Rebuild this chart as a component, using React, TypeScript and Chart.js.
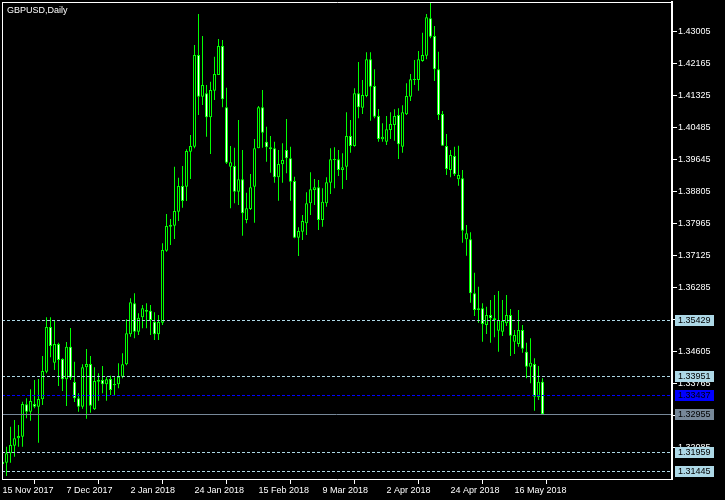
import React, { useEffect, useRef } from 'react';
import { Chart, registerables } from 'chart.js';

Chart.register(...registerables);

const chartTitle = 'GBPUSD,Daily';

// Daily OHLC values, oldest first
const open = [
  1.31652, 1.31687, 1.31932, 1.32133, 1.32326, 1.32369, 1.33218, 1.33026, 1.33227, 1.33157,
  1.33349, 1.34076, 1.35248, 1.34312, 1.34802, 1.34408, 1.33874, 1.34732, 1.33804, 1.33376,
  1.33157, 1.34189, 1.34277, 1.33087, 1.33813, 1.33857, 1.33743, 1.33883, 1.33717, 1.33743,
  1.33944, 1.34268, 1.35056, 1.35869, 1.35126, 1.35502, 1.35694, 1.35677, 1.35388, 1.35056,
  1.35362, 1.37252, 1.37882, 1.37908, 1.38276, 1.38949, 1.38932, 1.39851, 1.39982, 1.42388,
  1.41294, 1.41382, 1.40752, 1.41452, 1.41863, 1.42624, 1.41014, 1.39457, 1.39474, 1.38801,
  1.39124, 1.38057, 1.38346, 1.38932, 1.39938, 1.41014, 1.40113, 1.39921, 1.39938, 1.39177,
  1.39518, 1.39894, 1.39676, 1.39081, 1.37593, 1.37751, 1.37969, 1.38494, 1.38844, 1.38914,
  1.38057, 1.38494, 1.39037, 1.39658, 1.39649, 1.39369, 1.39457, 1.40262, 1.39999, 1.41382,
  1.41006, 1.41312, 1.42274, 1.41574, 1.40787, 1.40174, 1.40113, 1.40419, 1.40551, 1.40813,
  1.39982, 1.40831, 1.41294, 1.41732, 1.41732, 1.42231, 1.42371, 1.43351, 1.42887, 1.42012,
  1.40839, 1.39999, 1.39369, 1.39737, 1.39124, 1.39151, 1.37549, 1.37549, 1.36132, 1.35694,
  1.35738, 1.35301, 1.35563, 1.35476, 1.35152, 1.35126, 1.35344, 1.35563, 1.34863, 1.34802,
  1.35169, 1.34601, 1.34207, 1.34277, 1.33402, 1.33813,
];
const high = [
  1.31783, 1.32107, 1.32632, 1.32807, 1.32676, 1.33288, 1.33376, 1.33612, 1.33857, 1.33883,
  1.34487, 1.35502, 1.35502, 1.35406, 1.34837, 1.34426, 1.34854, 1.35222, 1.34338, 1.33507,
  1.34268, 1.34671, 1.34487, 1.34189, 1.34032, 1.34224, 1.33944, 1.33971, 1.33927, 1.34294,
  1.34557, 1.35449, 1.36001, 1.36132, 1.35607, 1.35826, 1.35869, 1.35826, 1.35633, 1.35563,
  1.37444, 1.38214, 1.38083, 1.39457, 1.39168, 1.39474, 1.39912, 1.40288, 1.42651, 1.43464,
  1.42887, 1.41601, 1.41688, 1.42344, 1.42808, 1.42782, 1.41531, 1.39999, 1.39956, 1.40682,
  1.39894, 1.38774, 1.39264, 1.40183, 1.41049, 1.41469, 1.40507, 1.40262, 1.40113, 1.39894,
  1.40069, 1.40708, 1.39982, 1.39194, 1.37864, 1.38188, 1.38783, 1.39308, 1.39133, 1.39107,
  1.38888, 1.39177, 1.39938, 1.39964, 1.39894, 1.39807, 1.40883, 1.40682, 1.41513, 1.42204,
  1.41732, 1.42458, 1.42458, 1.42012, 1.40971, 1.40594, 1.40787, 1.40883, 1.40962, 1.40988,
  1.41067, 1.41644, 1.41889, 1.42257, 1.42493, 1.42974, 1.43464, 1.43762, 1.43149, 1.42476,
  1.40918, 1.40314, 1.39894, 1.39982, 1.40008, 1.39369, 1.37926, 1.37733, 1.36674, 1.36307,
  1.35869, 1.35782, 1.35957, 1.36088, 1.36193, 1.35957, 1.36088, 1.35721, 1.35169, 1.35694,
  1.35301, 1.34837, 1.34951, 1.34426, 1.34224, 1.33901,
];
const low = [
  1.31599, 1.31337, 1.31687, 1.31844, 1.32107, 1.32107, 1.32851, 1.32789, 1.33113, 1.32212,
  1.33201, 1.34032, 1.34452, 1.34119, 1.33699, 1.33568, 1.33174, 1.33857, 1.33279, 1.33026,
  1.33104, 1.32842, 1.32999, 1.33069, 1.33314, 1.33507, 1.33314, 1.33463, 1.33463, 1.33638,
  1.33901, 1.34242, 1.34994, 1.34951, 1.35038, 1.35213, 1.35213, 1.35038, 1.34907, 1.34907,
  1.35301, 1.37226, 1.37401, 1.37558, 1.38031, 1.38381, 1.38556, 1.39133, 1.39938, 1.40813,
  1.41076, 1.40244, 1.39789, 1.41207, 1.41863, 1.41014, 1.39527, 1.38363, 1.38494, 1.38451,
  1.37646, 1.37969, 1.38319, 1.37987, 1.39938, 1.39956, 1.39588, 1.39299, 1.39037, 1.38564,
  1.39037, 1.39282, 1.38564, 1.37576, 1.37112, 1.37532, 1.37663, 1.38188, 1.38451, 1.37794,
  1.37882, 1.38407, 1.38739, 1.38888, 1.39212, 1.38871, 1.39107, 1.39824, 1.39982, 1.40726,
  1.40839, 1.41277, 1.40664, 1.40726, 1.40113, 1.40113, 1.40026, 1.40183, 1.40139, 1.39658,
  1.39824, 1.40813, 1.41181, 1.41601, 1.41452, 1.42213, 1.42274, 1.42826, 1.41706, 1.40682,
  1.40008, 1.39238, 1.39177, 1.39212, 1.38958, 1.37462, 1.37121, 1.35887, 1.35537, 1.35362,
  1.34863, 1.35064, 1.34837, 1.34977, 1.34601, 1.35012, 1.35274, 1.34487, 1.34539, 1.34732,
  1.34574, 1.33901, 1.33769, 1.33052, 1.33332, 1.32938,
];
const close = [
  1.31712, 1.31932, 1.32151, 1.32326, 1.32387, 1.33227, 1.33026, 1.33306, 1.33157, 1.33358,
  1.34093, 1.35248, 1.34749, 1.34802, 1.34382, 1.33874, 1.34732, 1.33918, 1.33376, 1.33157,
  1.34189, 1.34277, 1.33183, 1.33831, 1.33866, 1.33743, 1.33874, 1.33594, 1.33752, 1.33944,
  1.34268, 1.35082, 1.35896, 1.35126, 1.35493, 1.35738, 1.35651, 1.35432, 1.35056, 1.35388,
  1.37269, 1.37899, 1.37926, 1.38293, 1.38949, 1.38556, 1.39868, 1.39999, 1.42388, 1.41294,
  1.41601, 1.40752, 1.41469, 1.41889, 1.42624, 1.41224, 1.39562, 1.39571, 1.38801, 1.39124,
  1.38232, 1.38363, 1.38914, 1.39938, 1.41014, 1.40349, 1.39964, 1.39964, 1.39177, 1.39527,
  1.39632, 1.39676, 1.39063, 1.37593, 1.37768, 1.38031, 1.38494, 1.38862, 1.38914, 1.38057,
  1.38538, 1.39046, 1.39649, 1.39632, 1.39369, 1.39439, 1.40262, 1.39999, 1.41382, 1.41014,
  1.41338, 1.42274, 1.41557, 1.40769, 1.40183, 1.40244, 1.40437, 1.40577, 1.40787, 1.40043,
  1.40883, 1.41312, 1.41749, 1.41758, 1.42274, 1.42388, 1.43377, 1.42869, 1.42012, 1.40813,
  1.40008, 1.39396, 1.39763, 1.39256, 1.39238, 1.37777, 1.37707, 1.36132, 1.35694, 1.35738,
  1.35327, 1.35563, 1.35476, 1.35432, 1.35432, 1.35414, 1.35563, 1.35021, 1.35038, 1.35169,
  1.34679, 1.34207, 1.34312, 1.33419, 1.33813, 1.32955,
];

// Time axis labels (bar index where each label sits)
const xTickIndex = [0, 16, 32, 48, 64, 80, 96, 112, 128];
const xTickLabels = [
  '15 Nov 2017', '7 Dec 2017', '2 Jan 2018', '24 Jan 2018', '15 Feb 2018',
  '9 Mar 2018', '2 Apr 2018', '24 Apr 2018', '16 May 2018',
];

// Price axis labels
const yTickValues = [
  1.43005, 1.42165, 1.41325, 1.40485, 1.39645, 1.38805, 1.37965, 1.37125,
  1.36285, 1.35445, 1.34605, 1.33765, 1.32925, 1.32085,
];

// Horizontal levels
const dashedLevels = [1.35429, 1.33951, 1.31959, 1.31445];
const blueLevel = 1.33437;
const bidLevel = 1.32955;

const FONT_FAMILY = 'Liberation Sans';
const FONT = `9px "${FONT_FAMILY}"`;

const mtPlugin = {
  id: 'mtLook',
  beforeDraw(chart: any) {
    const ctx = chart.ctx;
    ctx.save();
    ctx.fillStyle = '#000000';
    ctx.fillRect(0, 0, chart.width, chart.height);
    ctx.restore();
  },
  afterDatasetsDraw(chart: any) {
    const { ctx, chartArea: a, scales } = chart;
    const y = scales.y;
    ctx.save();
    const hline = (v: number, color: string, dash: number[]) => {
      const py = Math.floor(y.getPixelForValue(v)) + 0.5;
      ctx.strokeStyle = color;
      ctx.lineWidth = 1;
      ctx.setLineDash(dash);
      ctx.beginPath();
      ctx.moveTo(a.left, py);
      ctx.lineTo(a.right - 1, py);
      ctx.stroke();
    };
    hline(bidLevel, '#778899', []);
    dashedLevels.forEach((v) => hline(v, '#add8e6', [3, 2]));
    hline(blueLevel, '#0000ff', [3, 2]);
    ctx.restore();
  },
  afterDraw(chart: any) {
    const { ctx, chartArea: a, scales } = chart;
    const y = scales.y;
    ctx.save();
    // frame (top & left)
    ctx.strokeStyle = '#ffffff';
    ctx.lineWidth = 1;
    ctx.setLineDash([]);
    ctx.beginPath();
    ctx.moveTo(a.left, a.top + 0.5);
    ctx.lineTo(a.right + 1, a.top + 0.5);
    ctx.moveTo(a.left + 0.5, a.top);
    ctx.lineTo(a.left + 0.5, a.bottom);
    ctx.stroke();
    // title
    ctx.font = FONT;
    ctx.fillStyle = '#ffffff';
    ctx.textBaseline = 'alphabetic';
    ctx.textAlign = 'left';
    ctx.fillText(chartTitle, 7, 13);
    // level labels
    const box = (v: number, bg: string) => {
      const row = Math.floor(y.getPixelForValue(v));
      ctx.fillStyle = bg;
      ctx.fillRect(a.right + 3, row - 5, 39, 11);
      ctx.fillStyle = '#000000';
      ctx.textBaseline = 'middle';
      ctx.fillText(v.toFixed(5), a.right + 6, row + 1);
    };
    dashedLevels.forEach((v) => box(v, '#add8e6'));
    box(blueLevel, '#0000ff');
    box(bidLevel, '#778899');
    ctx.restore();
  },
};

export default function App() {
  const ref = useRef<HTMLCanvasElement>(null);
  useEffect(() => {
    const bodyData = open.map((o, i) => ({ x: i, y: [Math.min(o, close[i]), Math.max(o, close[i])] }));
    const bodyColors = open.map((o, i) => (close[i] < o ? '#ffffff' : '#000000'));
    const wickData = high.map((h, i) => ({ x: i, y: [low[i], h] }));
    const chart = new Chart(ref.current as HTMLCanvasElement, {
      type: 'bar',
      data: {
        datasets: [
          {
            label: 'body',
            data: bodyData as any,
            backgroundColor: bodyColors,
            borderColor: '#00ff00',
            borderWidth: 1,
            borderSkipped: false,
            barThickness: 3,
            grouped: false,
            inflateAmount: 0,
          } as any,
          {
            label: 'wick',
            data: wickData as any,
            backgroundColor: '#00ff00',
            borderWidth: 0,
            barThickness: 1,
            grouped: false,
            inflateAmount: 0,
          } as any,
        ],
      },
      options: {
        responsive: false,
        animation: false,
        devicePixelRatio: 1,
        layout: { padding: { left: 2, top: 2, right: 0, bottom: 0 } },
        plugins: { legend: { display: false }, tooltip: { enabled: false } },
        scales: {
          x: {
            type: 'linear',
            min: -0.125,
            max: 167.375,
            bounds: 'data',
            offset: false,
            afterBuildTicks: (s: any) => {
              s.ticks = xTickIndex.map((v) => ({ value: v }));
            },
            afterFit: (s: any) => {
              s.height = 21;
              s.paddingLeft = 0;
              s.paddingRight = 0;
            },
            grid: { drawOnChartArea: false, drawTicks: true, tickLength: 5, color: '#ffffff' },
            border: { display: true, color: '#ffffff', width: 1 },
            ticks: {
              autoSkip: false,
              maxRotation: 0,
              minRotation: 0,
              align: 'start',
              padding: 1,
              color: '#ffffff',
              font: { family: FONT_FAMILY, size: 9 },
              callback: (_v: any, i: number) => xTickLabels[i],
            },
          } as any,
          y: {
            type: 'linear',
            position: 'right',
            min: 1.3125813,
            max: 1.4377938,
            bounds: 'data',
            afterBuildTicks: (s: any) => {
              s.ticks = yTickValues.map((v) => ({ value: v }));
            },
            afterFit: (s: any) => {
              s.width = 53;
              s.paddingTop = 0;
              s.paddingBottom = 0;
            },
            grid: { drawOnChartArea: false, drawTicks: true, tickLength: 5, color: '#ffffff' },
            border: { display: true, color: '#ffffff', width: 2 },
            ticks: {
              padding: 1,
              color: '#ffffff',
              font: { family: FONT_FAMILY, size: 9 },
              callback: (v: any) => Number(v).toFixed(5),
            },
          } as any,
        },
      },
      plugins: [mtPlugin],
    });
    return () => chart.destroy();
  }, []);
  return (
    <div style={{ position: 'absolute', left: 0, top: 0, width: 725, height: 500, background: '#000' }}>
      <canvas ref={ref} width={725} height={500} style={{ display: 'block', width: 725, height: 500 }} />
    </div>
  );
}
